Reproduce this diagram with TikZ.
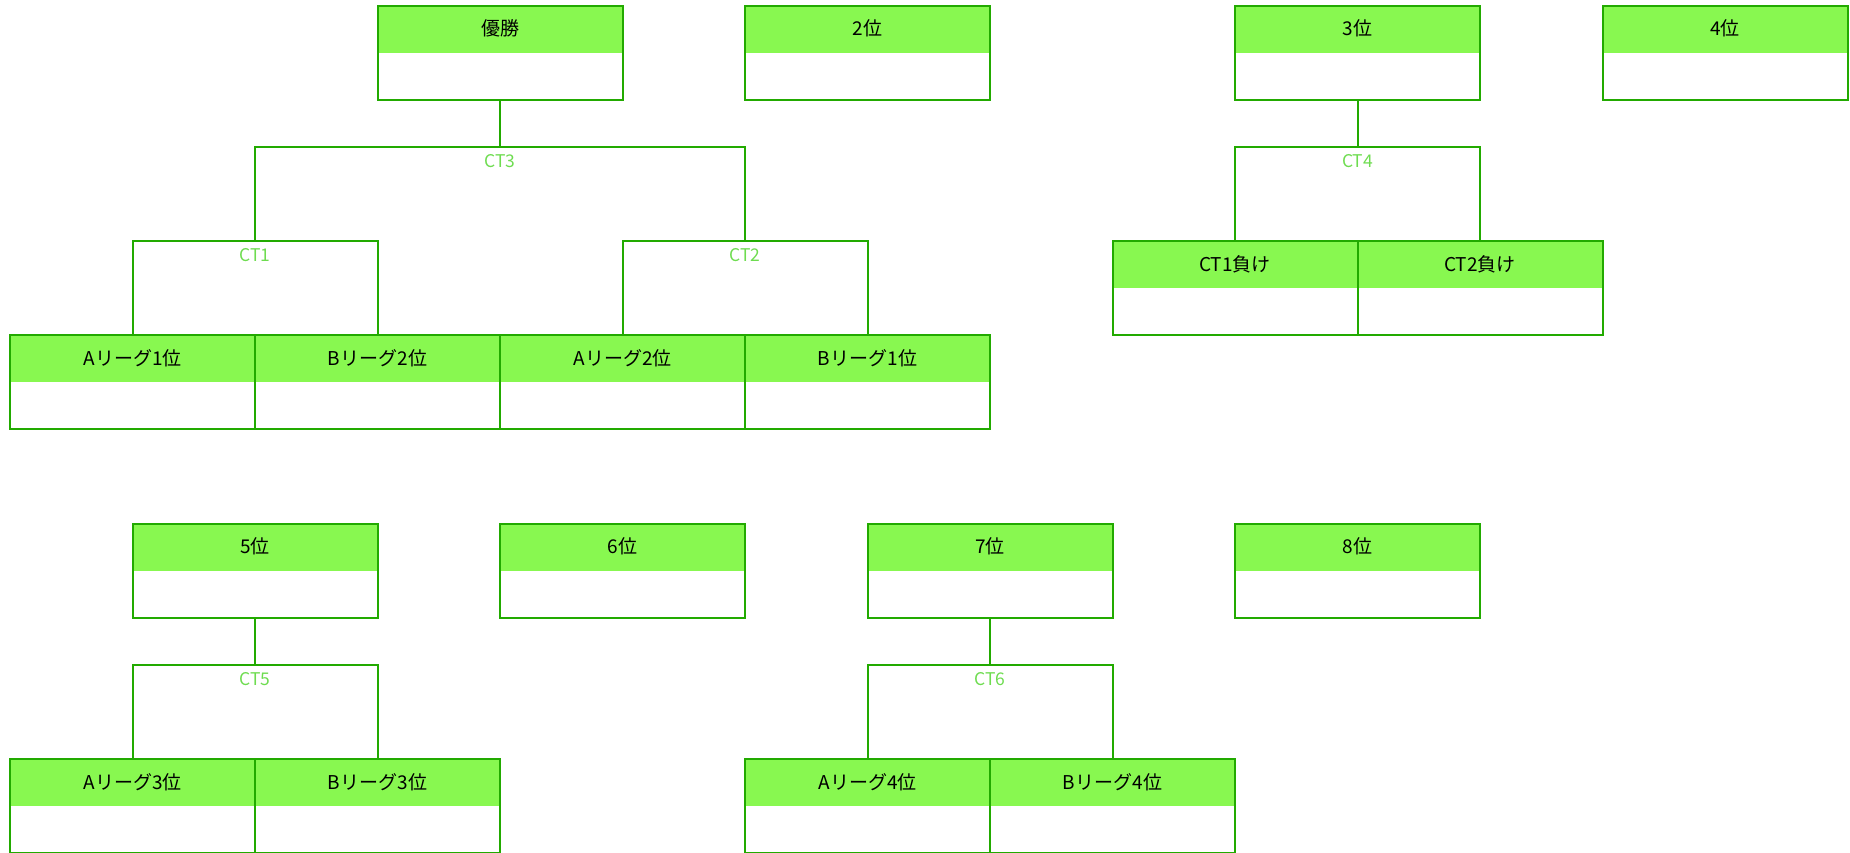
\documentclass[tikz,border=0pt]{standalone}
\usepackage{fontspec}
\setmainfont{Noto Sans CJK JP}
\definecolor{lc}{RGB}{34,170,0}
\definecolor{hc}{RGB}{136,248,80}
\definecolor{ctc}{RGB}{110,220,80}
\tikzset{
  tbox/.style={draw=lc, line width=2pt, minimum width=245pt, minimum height=94.2pt, inner sep=0pt,
    path picture={\fill[hc] (path picture bounding box.north west) rectangle ([yshift=-47.1pt]path picture bounding box.north east);}},
  ttext/.style={font=\fontsize{19}{21}\selectfont, text=black, inner sep=0pt},
  conn/.style={draw=lc, line width=2pt},
  ctlabel/.style={font=\fontsize{17.5}{19}\selectfont, text=ctc, inner sep=0pt}
}
\newcommand{\tbx}[4]{%
  \node[tbox] (#1) at (#2,#3) {};
  \node[ttext] (#1-t) at ([yshift=-24pt]#1.north) {#4};
}
\begin{document}
\begin{tikzpicture}[x=1pt,y=-1pt]
\useasboundingbox (0,0) rectangle (1850,852);
% row 1 (top y=5.5, center y=52.6)
\tbx{win}{500}{52.6}{優勝}
\tbx{p2}{867.5}{52.6}{2位}
\tbx{p3}{1357.5}{52.6}{3位}
\tbx{p4}{1725}{52.6}{4位}
% CT1/CT2 losers (top y=241)
\tbx{l1}{1235}{288.1}{CT1負け}
\tbx{l2}{1480}{288.1}{CT2負け}
% league row (top y=335.2)
\tbx{a1}{132.5}{382.3}{Aリーグ1位}
\tbx{b2}{377.5}{382.3}{Bリーグ2位}
\tbx{a2}{622.5}{382.3}{Aリーグ2位}
\tbx{b1}{867.5}{382.3}{Bリーグ1位}
% section 2 (top y=523.6)
\tbx{p5}{255}{570.7}{5位}
\tbx{p6}{622.5}{570.7}{6位}
\tbx{p7}{990}{570.7}{7位}
\tbx{p8}{1357.5}{570.7}{8位}
% bottom row (top y=759.1)
\tbx{a3}{132.5}{806.2}{Aリーグ3位}
\tbx{b3}{377.5}{806.2}{Bリーグ3位}
\tbx{a4}{867.5}{806.2}{Aリーグ4位}
\tbx{b4}{1112.5}{806.2}{Bリーグ4位}
% junction coordinates
\coordinate (ct1) at (255,241);
\coordinate (ct2) at (745,241);
\coordinate (ct3) at (500,146.8);
\coordinate (ct4) at (1357.5,146.8);
\coordinate (ct5) at (255,664.9);
\coordinate (ct6) at (990,664.9);
% connectors
\draw[conn] (a1.north) |- (ct1) -| (b2.north);
\draw[conn] (a2.north) |- (ct2) -| (b1.north);
\draw[conn] (ct1) |- (ct3) -| (ct2);
\draw[conn] (ct3) -- (win.south);
\draw[conn] (l1.north) |- (ct4) -| (l2.north);
\draw[conn] (ct4) -- (p3.south);
\draw[conn] (a3.north) |- (ct5) -| (b3.north);
\draw[conn] (ct5) -- (p5.south);
\draw[conn] (a4.north) |- (ct6) -| (b4.north);
\draw[conn] (ct6) -- (p7.south);
% labels
\node[ctlabel] (ct1l) at ([yshift=-14pt]ct1) {CT1};
\node[ctlabel] (ct2l) at ([yshift=-14pt]ct2) {CT2};
\node[ctlabel] (ct3l) at ([yshift=-14pt]ct3) {CT3};
\node[ctlabel] (ct4l) at ([yshift=-14pt]ct4) {CT4};
\node[ctlabel] (ct5l) at ([yshift=-14pt]ct5) {CT5};
\node[ctlabel] (ct6l) at ([yshift=-14pt]ct6) {CT6};
\end{tikzpicture}
\end{document}
